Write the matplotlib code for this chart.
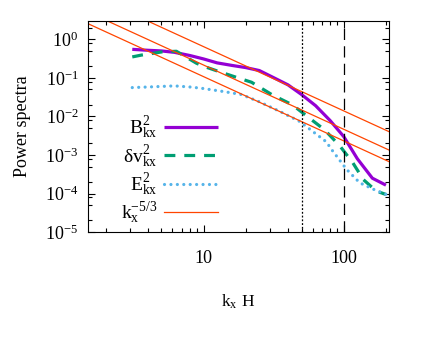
import numpy as np
import matplotlib
matplotlib.use("Agg")
import matplotlib.pyplot as plt
from matplotlib.ticker import LogLocator, NullFormatter

plt.rcParams["font.family"] = ["Liberation Serif", "DejaVu Serif"]
plt.rcParams["mathtext.fontset"] = "stix"

# magnetic spectrum B_kx^2
k_b = [3.1, 4, 5, 6.2, 8, 10, 12.5, 16, 20, 25, 31, 40, 50, 63, 80, 100, 125, 160, 200]
p_b = [0.55, 0.52, 0.50, 0.46, 0.38, 0.31, 0.245, 0.21, 0.185, 0.155, 0.105, 0.066,
       0.037, 0.019, 0.0078, 0.003, 8e-4, 2.5e-4, 1.65e-4]

# velocity spectrum dv_kx^2
k_v = [3.1, 3.6, 4.3, 5, 6.4, 7.1, 8.9, 10, 12.6, 17.6, 22, 31, 43, 57, 73, 94, 116, 138, 171, 200]
p_v = [0.35, 0.39, 0.43, 0.47, 0.49, 0.39, 0.24, 0.20, 0.15, 0.10, 0.077, 0.036, 0.02,
       0.009, 0.0045, 0.0017, 6.3e-4, 2.3e-4, 1.15e-4, 9.5e-5]

# electric spectrum E_kx^2
k_e = [3.1, 4, 5, 6.2, 8, 9.6, 14, 18.6, 25, 35, 48.5, 60, 75, 83, 105, 130, 162, 200]
p_e = [0.056, 0.058, 0.060, 0.062, 0.058, 0.054, 0.044, 0.037, 0.024, 0.0135, 0.0074,
       0.0041, 0.0022, 0.0013, 4.2e-4, 1.9e-4, 1.3e-4, 9.5e-5]

# k^-5/3 reference lines
ref_amps = [30, 10, 5]
k_ref = np.array([1.5, 210])
k_marks = [50, 100]

fig = plt.figure(figsize=(4.36, 3.49), dpi=100)
ax = fig.add_axes([0.202, 0.335, 0.690, 0.605])

l_b, = ax.plot(k_b, p_b, color="#9400d3", lw=2.3, solid_capstyle="butt")
l_v, = ax.plot(k_v, p_v, color="#009e73", lw=2.3, linestyle=(0, (3.4, 2.8)))
l_e, = ax.plot(k_e, p_e, color="#56b4e9", lw=2.3, linestyle=(0, (0.01, 2.0)),
               dash_capstyle="round")
l_r = None
for amp in ref_amps:
    l_r, = ax.plot(k_ref, amp * k_ref ** (-5.0 / 3.0), color="#ff4500", lw=0.9)

ax.axvline(k_marks[0], color="black", lw=0.9, linestyle=(0, (1.5, 1.5)))
ax.axvline(k_marks[1], color="black", lw=0.9, linestyle=(0, (9, 5)))

ax.set_xscale("log")
ax.set_yscale("log")
ax.set_xlim(1.5, 210)
ax.set_ylim(1e-5, 3)

ax.yaxis.set_major_locator(LogLocator(base=10, numticks=10))
ax.yaxis.set_minor_locator(LogLocator(base=10, subs=(2, 5, 8), numticks=10))
ax.yaxis.set_minor_formatter(NullFormatter())
ax.xaxis.set_minor_formatter(NullFormatter())
ax.set_xticks([10, 100])
ax.set_xticklabels(["10", "100"])

ax.tick_params(which="both", direction="in", top=True, right=True, labelsize=13)
ax.tick_params(which="major", length=5, width=0.8)
ax.tick_params(which="minor", length=2.8, width=0.8)
ax.tick_params(axis="x", pad=13)
ax.tick_params(axis="y", pad=7)

ax.set_xlabel(r"k$_\mathregular{x}$ H", fontsize=12.5, labelpad=18)
ax.set_ylabel("Power spectra", fontsize=13, labelpad=10)

labels = [r"$\mathregular{B^2_{kx}}$", r"$\mathregular{δv^2_{kx}}$",
          r"$\mathregular{E^2_{kx}}$", r"$\mathregular{k_x^{-5/3}}$"]
ax.legend([l_b, l_v, l_e, l_r], labels, markerfirst=False, frameon=False,
          loc="upper right", bbox_to_anchor=(0.432, 0.555), fontsize=14,
          handlelength=2.8, handletextpad=0.3, labelspacing=0.1, borderpad=0,
          borderaxespad=0)

fig.savefig("out.png", dpi=100)
